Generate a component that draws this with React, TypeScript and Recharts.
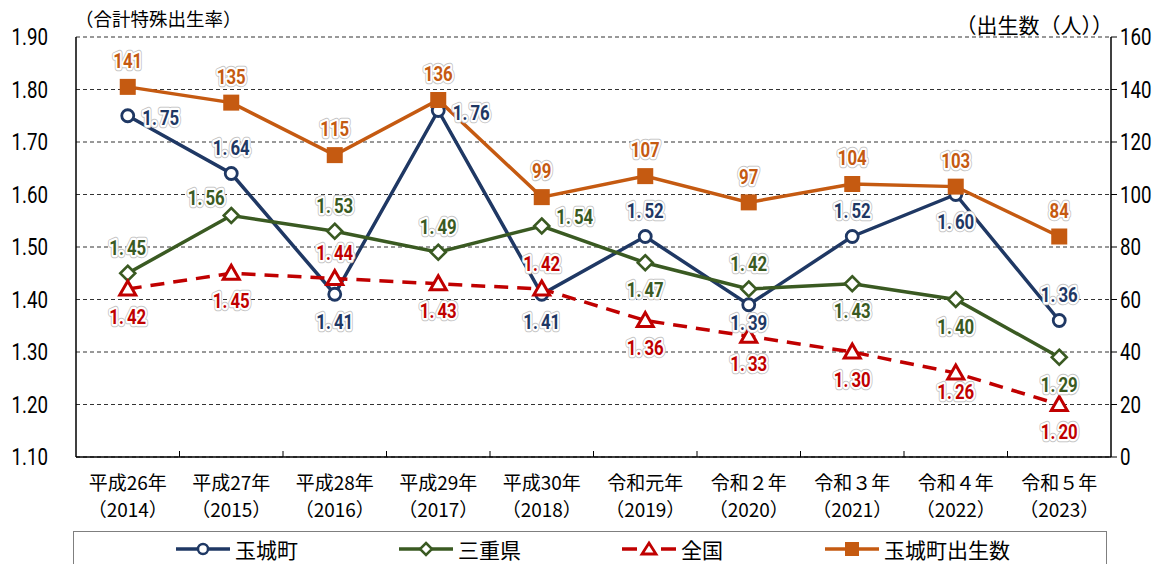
import { CartesianGrid, LabelList, Legend, Line, LineChart, XAxis, YAxis } from "recharts";

const eraLabels = ["平成26年", "平成27年", "平成28年", "平成29年", "平成30年", "令和元年", "令和２年", "令和３年", "令和４年", "令和５年"];
const yearLabels = ["（2014）", "（2015）", "（2016）", "（2017）", "（2018）", "（2019）", "（2020）", "（2021）", "（2022）", "（2023）"];

const tamakiRate = [1.75, 1.64, 1.41, 1.76, 1.41, 1.52, 1.39, 1.52, 1.6, 1.36];
const mieRate = [1.45, 1.56, 1.53, 1.49, 1.54, 1.47, 1.42, 1.43, 1.4, 1.29];
const nationalRate = [1.42, 1.45, 1.44, 1.43, 1.42, 1.36, 1.33, 1.3, 1.26, 1.2];
const tamakiBirths = [141, 135, 115, 136, 99, 107, 97, 104, 103, 84];

const rateTicks = [1.1, 1.2, 1.3, 1.4, 1.5, 1.6, 1.7, 1.8, 1.9];
const birthTicks = [0, 20, 40, 60, 80, 100, 120, 140, 160];

// where each value label sits relative to its point
const tamakiPlace = ["right", "top", "bottom", "right", "bottom", "top", "near", "top", "bottom", "top"];
const miePlace = ["top", "leftUp", "top", "top", "rightUp", "bottom", "top", "bottom", "bottom", "bottom"];
const nationalPlace = ["bottom", "bottom", "top", "bottom", "top", "bottom", "bottom", "bottom", "near", "bottom"];
const birthsPlace = ["top", "top", "top", "top", "top", "top", "top", "top", "top", "top"];

const OFFSETS: Record<string, [number, number]> = {
  top: [0, -26],
  bottom: [0, 27],
  near: [0, 18],
  right: [33, 2],
  rightUp: [33, -10],
  leftUp: [-25, -18],
};

const NAVY = "#1f3864";
const GREEN = "#3a5a22";
const RED = "#c00000";
const ORANGE = "#c55a11";
const NUM = "Roboto, sans-serif";
const JP = '"Noto Sans CJK JP", sans-serif';

const data = eraLabels.map((era, i) => ({
  name: era,
  year: yearLabels[i],
  tamaki: tamakiRate[i],
  mie: mieRate[i],
  national: nationalRate[i],
  births: tamakiBirths[i],
}));

const PLOT_W = 1035;
const BAND = PLOT_W / data.length;

const makeLabel = (color: string, places: string[], decimals: boolean) => (props: any) => {
  const { x, y, value, index } = props;
  if (x == null || y == null) return null;
  const [dx, dy] = OFFSETS[places[index]] || [0, -26];
  const str = decimals ? Number(value).toFixed(2) : String(value);
  const parts = str.split(".");
  const content =
    parts.length > 1 ? (
      <>
        <tspan>{parts[0]}.</tspan>
        <tspan dx={4}>{parts[1]}</tspan>
      </>
    ) : (
      str
    );
  const common = {
    x: 0,
    y: 0,
    textAnchor: "middle" as const,
    dominantBaseline: "central" as const,
    fontFamily: NUM,
    fontWeight: 700,
    fontSize: 21,
    strokeLinejoin: "round" as const,
  };
  return (
    <g transform={`translate(${x + dx},${y + dy}) scale(0.8,1)`}>
      <text {...common} fill="none" stroke="#c4c4c4" strokeWidth={6.5}>
        {content}
      </text>
      <text {...common} fill="none" stroke="#ffffff" strokeWidth={4.5}>
        {content}
      </text>
      <text {...common} fill={color}>
        {content}
      </text>
    </g>
  );
};

const CircleDot = (props: any) => {
  const { cx, cy } = props;
  if (cx == null || cy == null) return null;
  return <circle cx={cx} cy={cy} r={6} fill="#fff" stroke={NAVY} strokeWidth={2.8} />;
};

const DiamondDot = (props: any) => {
  const { cx, cy } = props;
  if (cx == null || cy == null) return null;
  const s = 7.5;
  return (
    <polygon
      points={`${cx},${cy - s} ${cx + s},${cy} ${cx},${cy + s} ${cx - s},${cy}`}
      fill="#fff"
      stroke={GREEN}
      strokeWidth={2.6}
    />
  );
};

const TriangleDot = (props: any) => {
  const { cx, cy } = props;
  if (cx == null || cy == null) return null;
  return (
    <polygon
      points={`${cx},${cy - 8} ${cx + 8},${cy + 6} ${cx - 8},${cy + 6}`}
      fill="#fff"
      stroke={RED}
      strokeWidth={3}
    />
  );
};

const SquareDot = (props: any) => {
  const { cx, cy } = props;
  if (cx == null || cy == null) return null;
  return <rect x={cx - 8} y={cy - 8} width={16} height={16} fill={ORANGE} />;
};

const XTick = (props: any) => {
  const { x, y, payload, index } = props;
  const row = data[index] || data.find((d) => d.name === payload.value);
  return (
    <g>
      {index < data.length - 1 && (
        <line x1={x + BAND / 2} x2={x + BAND / 2} y1={y} y2={y - 6} stroke="#000" strokeWidth={1} />
      )}
      <text x={x} y={y + 24} textAnchor="middle" dominantBaseline="central" fontFamily={JP} fontSize={19} fill="#000">
        {payload.value}
      </text>
      <text x={x} y={y + 51} textAnchor="middle" dominantBaseline="central" fontFamily={JP} fontSize={19} fill="#000">
        {row ? row.year : ""}
      </text>
    </g>
  );
};

const makeYTick = (digits: number) => (props: any) => {
  const { x, y, payload, textAnchor } = props;
  return (
    <text
      transform={`translate(${x},${y}) scale(0.78,1)`}
      x={0}
      y={0}
      textAnchor={textAnchor}
      dominantBaseline="central"
      fontFamily={NUM}
      fontSize={24}
      fill="#000"
    >
      {Number(payload.value).toFixed(digits)}
    </text>
  );
};

const legendItems = [
  { name: "玉城町", color: NAVY, left: 102, marker: "circle", dashed: false },
  { name: "三重県", color: GREEN, left: 325, marker: "diamond", dashed: false },
  { name: "全国", color: RED, left: 548, marker: "triangle", dashed: true },
  { name: "玉城町出生数", color: ORANGE, left: 751, marker: "square", dashed: false },
];

const LegendMarker = ({ kind, color }: { kind: string; color: string }) => {
  const cx = 27;
  const cy = 10;
  if (kind === "circle") return <circle cx={cx} cy={cy} r={5} fill="#fff" stroke={color} strokeWidth={2.5} />;
  if (kind === "diamond")
    return (
      <polygon
        points={`${cx},${cy - 6} ${cx + 6},${cy} ${cx},${cy + 6} ${cx - 6},${cy}`}
        fill="#fff"
        stroke={color}
        strokeWidth={2.5}
      />
    );
  if (kind === "triangle")
    return <polygon points={`${cx},${cy - 6} ${cx + 7},${cy + 5} ${cx - 7},${cy + 5}`} fill="#fff" stroke={color} strokeWidth={2.8} />;
  return <rect x={cx - 7} y={cy - 7} width={14} height={14} fill={color} />;
};

const LegendBox = () => (
  <div
    style={{
      position: "relative",
      width: 1034,
      height: 40,
      border: "1px solid #7f7f7f",
      boxSizing: "border-box",
      background: "#fff",
    }}
  >
    {legendItems.map((item) => (
      <div
        key={item.name}
        style={{ position: "absolute", left: item.left, top: 6, display: "flex", alignItems: "center", height: 22 }}
      >
        <svg width={54} height={20} style={{ display: "block" }}>
          {item.dashed ? (
            <>
              <line x1={0} x2={15} y1={10} y2={10} stroke={item.color} strokeWidth={3.5} />
              <line x1={39} x2={54} y1={10} y2={10} stroke={item.color} strokeWidth={3.5} />
            </>
          ) : (
            <line x1={0} x2={54} y1={10} y2={10} stroke={item.color} strokeWidth={3.5} />
          )}
          <LegendMarker kind={item.marker} color={item.color} />
        </svg>
        <span style={{ marginLeft: 5, fontFamily: JP, fontSize: 21, color: "#000", lineHeight: "22px" }}>{item.name}</span>
      </div>
    ))}
  </div>
);

const AxisTitle = ({ x, y, anchor, size, text }: any) => () => (
  <text x={x} y={y} textAnchor={anchor} dominantBaseline="central" fontFamily={JP} fontSize={size} fill="#000">
    {text}
  </text>
);

export default function App() {
  return (
    <div style={{ position: "absolute", left: 0, top: 0, width: 1166, height: 564, background: "#fff", overflow: "hidden" }}>
      <LineChart width={1166} height={564} data={data} margin={{ top: 37, right: 0, bottom: 0, left: 0 }}>
        <CartesianGrid yAxisId="rate" vertical={false} stroke="#333" strokeDasharray="4 3" strokeWidth={1} />
        <XAxis
          dataKey="name"
          height={67}
          padding={{ left: BAND / 2, right: BAND / 2 }}
          tickSize={0}
          tickMargin={0}
          tickLine={false}
          axisLine={{ stroke: "#000", strokeWidth: 1.5 }}
          interval={0}
          tick={<XTick />}
        />
        <YAxis
          yAxisId="rate"
          width={76}
          domain={[1.1, 1.9]}
          ticks={rateTicks}
          tickSize={0}
          tickMargin={28}
          tickLine={false}
          axisLine={{ stroke: "#000", strokeWidth: 1.5 }}
          tick={makeYTick(2)}
          allowDataOverflow
          label={{ content: AxisTitle({ x: 75, y: 18, anchor: "start", size: 18.5, text: "（合計特殊出生率）" }) }}
        />
        <YAxis
          yAxisId="births"
          orientation="right"
          width={55}
          domain={[0, 160]}
          ticks={birthTicks}
          tickSize={6}
          tickMargin={3}
          tickLine={{ stroke: "#000" }}
          axisLine={{ stroke: "#000", strokeWidth: 1.5 }}
          tick={makeYTick(0)}
          label={{ content: AxisTitle({ x: 1113, y: 24, anchor: "end", size: 21, text: "（出生数（人））" }) }}
        />
        <Legend
          verticalAlign="bottom"
          height={40}
          wrapperStyle={{ left: 73, width: 1034, bottom: -7 }}
          content={() => <LegendBox />}
        />

        <Line
          yAxisId="rate"
          dataKey="tamaki"
          stroke={NAVY}
          strokeWidth={3.5}
          dot={<CircleDot />}
          activeDot={false}
          isAnimationActive={false}
        />
        <Line
          yAxisId="rate"
          dataKey="mie"
          stroke={GREEN}
          strokeWidth={3.5}
          dot={<DiamondDot />}
          activeDot={false}
          isAnimationActive={false}
        />
        <Line
          yAxisId="rate"
          dataKey="national"
          stroke={RED}
          strokeWidth={3.5}
          strokeDasharray="14 9"
          dot={<TriangleDot />}
          activeDot={false}
          isAnimationActive={false}
        />
        <Line
          yAxisId="births"
          dataKey="births"
          stroke={ORANGE}
          strokeWidth={3.5}
          dot={<SquareDot />}
          activeDot={false}
          isAnimationActive={false}
        />

        {/* value labels drawn last so they sit above every line */}
        <Line yAxisId="rate" dataKey="tamaki" stroke="none" dot={false} activeDot={false} isAnimationActive={false} legendType="none">
          <LabelList dataKey="tamaki" content={makeLabel(NAVY, tamakiPlace, true)} />
        </Line>
        <Line yAxisId="rate" dataKey="mie" stroke="none" dot={false} activeDot={false} isAnimationActive={false} legendType="none">
          <LabelList dataKey="mie" content={makeLabel(GREEN, miePlace, true)} />
        </Line>
        <Line yAxisId="rate" dataKey="national" stroke="none" dot={false} activeDot={false} isAnimationActive={false} legendType="none">
          <LabelList dataKey="national" content={makeLabel(RED, nationalPlace, true)} />
        </Line>
        <Line yAxisId="births" dataKey="births" stroke="none" dot={false} activeDot={false} isAnimationActive={false} legendType="none">
          <LabelList dataKey="births" content={makeLabel(ORANGE, birthsPlace, false)} />
        </Line>
      </LineChart>
    </div>
  );
}
